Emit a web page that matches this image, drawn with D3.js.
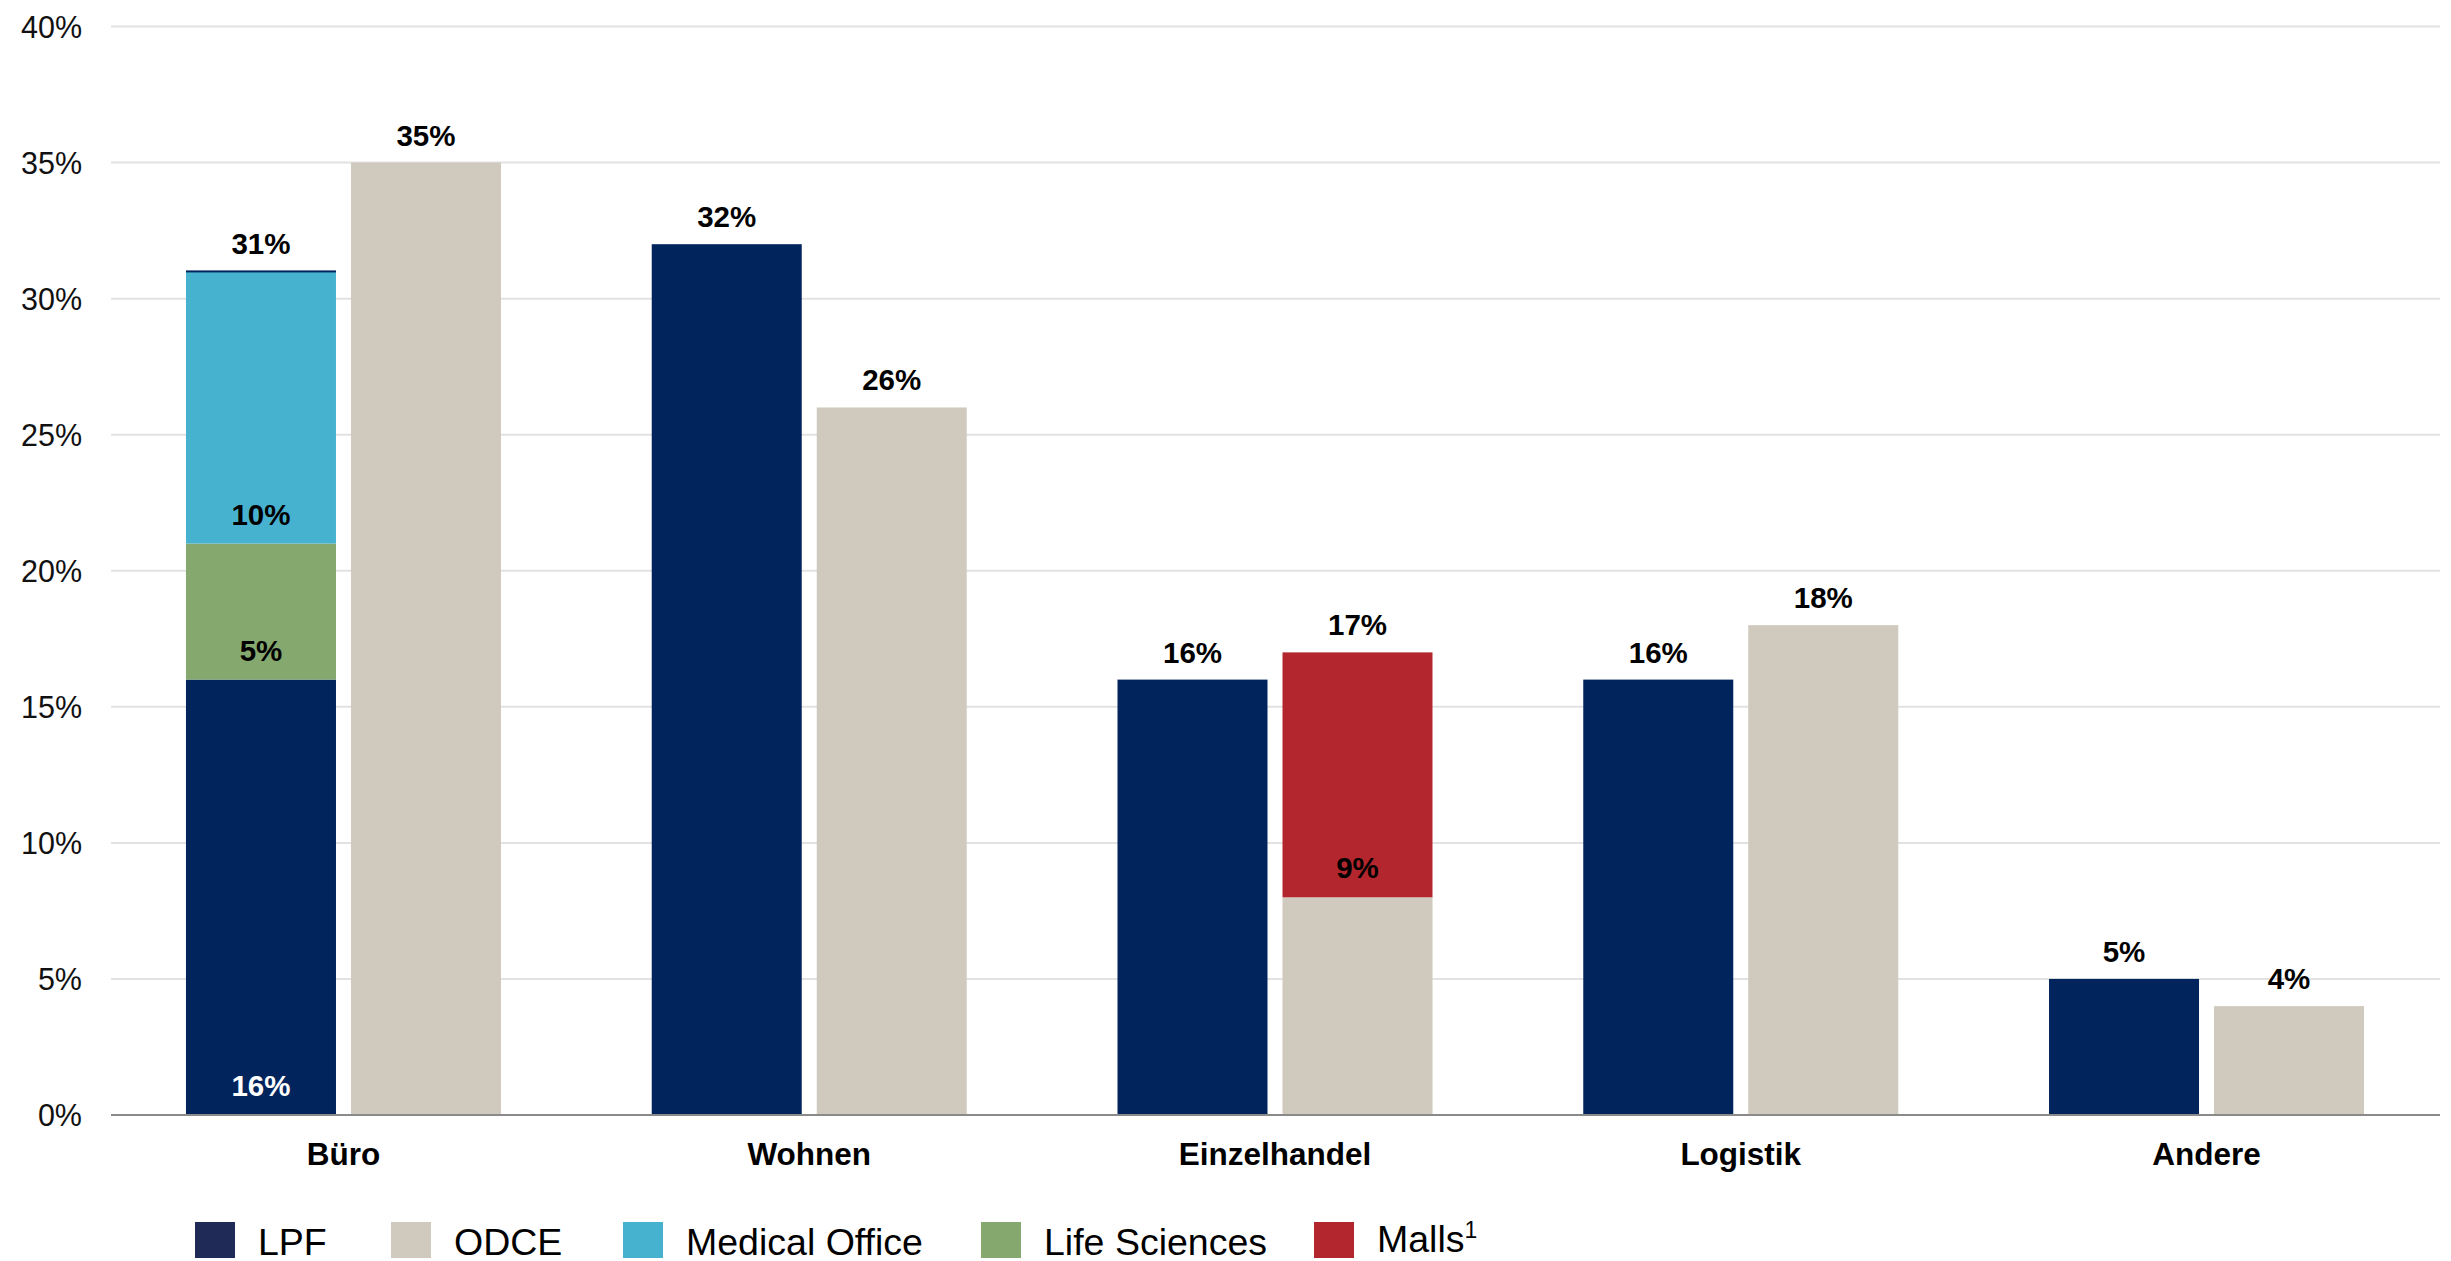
<!DOCTYPE html>
<html>
<head>
<meta charset="utf-8">
<script src="https://cdn.jsdelivr.net/npm/d3@7/dist/d3.min.js"></script>
<style>
  html, body { margin: 0; padding: 0; background: #ffffff; }
  svg { display: block; font-family: "Liberation Sans", Arial, Helvetica, sans-serif; }
</style>
</head>
<body>
<svg id="chart" width="2451" height="1261"></svg>
<script>
// Sector allocation, in percent
const categories = ["Büro", "Wohnen", "Einzelhandel", "Logistik", "Andere"];
const lpf = [16, 32, 16, 16, 5];
const lifeSciences = [5, 0, 0, 0, 0];
const medicalOffice = [10, 0, 0, 0, 0];
const odce = [35, 26, 8, 18, 4];
const malls = [0, 0, 9, 0, 0];
const yTicks = [0, 5, 10, 15, 20, 25, 30, 35, 40];

// Legend entries
const legendNames = ["LPF", "ODCE", "Medical Office", "Life Sciences", "Malls"];

// Segments that carry their own value label inside the bar
const segmentLabels = [
  { category: "Büro", series: "LPF" },
  { category: "Büro", series: "Life Sciences" },
  { category: "Büro", series: "Medical Office" },
  { category: "Einzelhandel", series: "Malls" }
];

const colors = {
  "LPF": "#01245c",
  "ODCE": "#d0c9bd",
  "Medical Office": "#47b2d0",
  "Life Sciences": "#85a86f",
  "Malls": "#b3262d"
};
const legendColors = Object.assign({}, colors, { "LPF": "#1f2a56" });

// Each column is a stack of series, bottom to top
const stacks = {
  "LPF": [["LPF", lpf], ["Life Sciences", lifeSciences], ["Medical Office", medicalOffice]],
  "ODCE": [["ODCE", odce], ["Malls", malls]]
};

const svg = d3.select("#chart");
const gridLeft = 111, plotRight = 2440;

const y = d3.scaleLinear().domain([0, 40]).range([1115, 26.5]);
const x0 = d3.scaleBand().domain(categories).range([110.6, 2439.4]).padding(0);
const x1 = d3.scaleBand().domain(["LPF", "ODCE"])
  .range([0, 315]).paddingInner(15 / 165).paddingOuter(0);
const groupLeft = c => x0(c) + (x0.bandwidth() - 315) / 2;

// Gridlines
svg.append("g")
  .selectAll("line")
  .data(yTicks.filter(t => t > 0))
  .join("line")
  .attr("x1", gridLeft).attr("x2", plotRight)
  .attr("y1", d => y(d)).attr("y2", d => y(d))
  .attr("stroke", "#e2e2e2").attr("stroke-width", 2);

// Y axis labels
const yAxis = svg.append("g")
  .attr("transform", "translate(82,0)")
  .call(d3.axisLeft(y).tickValues(yTicks).tickFormat(d => d + "%").tickSize(0).tickPadding(0));
yAxis.select(".domain").remove();
yAxis.selectAll("text")
  .attr("font-size", 30.5)
  .attr("font-family", "'Liberation Sans', Arial, sans-serif")
  .attr("fill", "#111")
  .attr("dy", "0.36em");

// Bars
const barsG = svg.append("g");
const labelsG = svg.append("g")
  .attr("font-weight", "bold").attr("font-size", 29.5).attr("text-anchor", "middle");

categories.forEach((cat, i) => {
  Object.keys(stacks).forEach(col => {
    const bx = groupLeft(cat) + x1(col);
    const bw = x1.bandwidth();
    let base = 0;
    const segs = [];
    stacks[col].forEach(([name, values]) => {
      const v = values[i];
      if (v > 0) segs.push({ name, v, y0: base, y1: base + v });
      base += v;
    });
    barsG.selectAll(null)
      .data(segs)
      .join("rect")
      .attr("x", bx).attr("width", bw)
      .attr("y", d => y(d.y1))
      .attr("height", d => y(d.y0) - y(d.y1))
      .attr("fill", d => colors[d.name]);

    // Thin cap in the column colour on top of a multi-part stack
    if (col === "LPF" && segs.length > 1) {
      barsG.append("rect")
        .attr("x", bx).attr("width", bw)
        .attr("y", y(base) - 1).attr("height", 2)
        .attr("fill", colors.LPF);
    }

    // Total above the column
    labelsG.append("text")
      .attr("x", bx + bw / 2)
      .attr("y", y(base) - 17)
      .attr("fill", "#000")
      .text(base + "%");

    // Labels inside individual segments
    segs.forEach(s => {
      if (segmentLabels.some(l => l.category === cat && l.series === s.name)) {
        labelsG.append("text")
          .attr("x", bx + bw / 2)
          .attr("y", y(s.y0) - 19)
          .attr("fill", s.name === "LPF" ? "#ffffff" : "#000")
          .text(s.v + "%");
      }
    });
  });
});

// Baseline
svg.append("line")
  .attr("x1", gridLeft).attr("x2", plotRight)
  .attr("y1", y(0)).attr("y2", y(0))
  .attr("stroke", "#8a8a8a").attr("stroke-width", 2);

// Category labels
svg.append("g")
  .selectAll("text")
  .data(categories)
  .join("text")
  .attr("x", d => x0(d) + x0.bandwidth() / 2)
  .attr("y", 1165)
  .attr("text-anchor", "middle")
  .attr("font-weight", "bold")
  .attr("font-size", 31.5)
  .attr("fill", "#000")
  .text(d => d);

// Legend: one row of swatches along the bottom edge
const legendSlots = [195, 391, 623, 981, 1314];
const legend = svg.append("g");
legendNames.forEach((name, k) => {
  const lx = legendSlots[k];
  legend.append("rect")
    .attr("x", lx).attr("y", 1222)
    .attr("width", 40).attr("height", 36)
    .attr("fill", legendColors[name]);
  const t = legend.append("text")
    .attr("x", lx + 63).attr("y", name === "Malls" ? 1252 : 1255)
    .attr("font-size", 37.5).attr("fill", "#000")
    .text(name);
  if (name === "Malls") {
    t.append("tspan").attr("font-size", 23).attr("dy", -14).text("1");
  }
});
</script>
</body>
</html>
